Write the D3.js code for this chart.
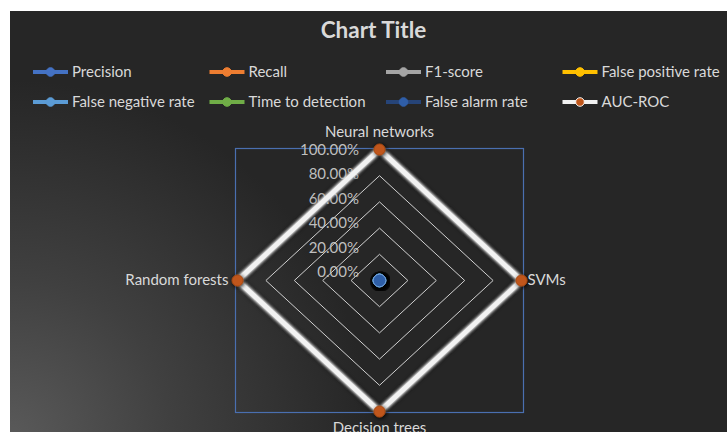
<!DOCTYPE html>
<html>
<head>
<meta charset="utf-8">
<script src="https://cdn.jsdelivr.net/npm/d3@7"></script>
<style>
  html, body { margin: 0; padding: 0; background: #ffffff; }
  svg { display: block; }
  text { font-family: Lato, "Open Sans", sans-serif; }
</style>
</head>
<body>
<svg id="chart" width="727" height="432"></svg>
<script>
// Categories around the radar, clockwise from the top
const categories = ["Neural networks", "SVMs", "Decision trees", "Random forests"];

// Series values per category (fractions of 1 = 100%)
const precision         = [0, 0, 0, 0];
const recall            = [0, 0, 0, 0];
const f1Score           = [0, 0, 0, 0];
const falsePositiveRate = [0, 0, 0, 0];
const falseNegativeRate = [0, 0, 0, 0];
const timeToDetection   = [0, 0, 0, 0];
const falseAlarmRate    = [0, 0, 0, 0];
const aucRoc            = [1, 1, 1, 1];

const seriesNames  = ["Precision", "Recall", "F1-score", "False positive rate",
                      "False negative rate", "Time to detection", "False alarm rate", "AUC-ROC"];
const seriesValues = [precision, recall, f1Score, falsePositiveRate,
                      falseNegativeRate, timeToDetection, falseAlarmRate, aucRoc];
const seriesColors = ["#4472C4", "#ED7D31", "#A5A5A5", "#FFC000",
                      "#5B9BD5", "#70AD47", "#264478", "#F2F2F2"];
const markerColors = ["#4472C4", "#ED7D31", "#A5A5A5", "#FFC000",
                      "#5B9BD5", "#70AD47", "#2F5EA8", "#C0561A"];

// Radial axis ticks
const tickValues = [0, 0.2, 0.4, 0.6, 0.8, 1];
const tickFormat = d3.format(".2%");

const title = "Chart Title";

const svg = d3.select("#chart");
const defs = svg.append("defs");

// Background gradient: lighter toward the lower-left corner
const bg = defs.append("radialGradient")
  .attr("id", "bgGrad")
  .attr("gradientUnits", "userSpaceOnUse")
  .attr("cx", 10).attr("cy", 440).attr("r", 360);
bg.append("stop").attr("offset", "0%").attr("stop-color", "#5a5a5a");
bg.append("stop").attr("offset", "45%").attr("stop-color", "#404040");
bg.append("stop").attr("offset", "100%").attr("stop-color", "#262626");

// Soft dark shadow around markers
const shadow = defs.append("filter").attr("id", "shadow")
  .attr("x", "-30%").attr("y", "-30%").attr("width", "160%").attr("height", "160%");
shadow.append("feGaussianBlur").attr("in", "SourceAlpha").attr("stdDeviation", 2.2).attr("result", "blur");
shadow.append("feFlood").attr("flood-color", "#000").attr("flood-opacity", 0.9);
shadow.append("feComposite").attr("in2", "blur").attr("operator", "in").attr("result", "sh");
shadow.append("feOffset").attr("in", "sh").attr("dx", 0.8).attr("dy", 1.2).attr("result", "shOff");
const merge = shadow.append("feMerge");
merge.append("feMergeNode").attr("in", "shOff");
merge.append("feMergeNode").attr("in", "SourceGraphic");

// Dark halo plus light glow around series lines
const softLine = defs.append("filter").attr("id", "softLine")
  .attr("x", "-20%").attr("y", "-20%").attr("width", "140%").attr("height", "140%");
softLine.append("feGaussianBlur").attr("in", "SourceAlpha").attr("stdDeviation", 3).attr("result", "blur");
softLine.append("feFlood").attr("flood-color", "#000").attr("flood-opacity", 0.95);
softLine.append("feComposite").attr("in2", "blur").attr("operator", "in").attr("result", "sh");
softLine.append("feGaussianBlur").attr("in", "SourceGraphic").attr("stdDeviation", 1.8).attr("result", "glow");
softLine.append("feGaussianBlur").attr("in", "SourceGraphic").attr("stdDeviation", 0.45).attr("result", "soft");
const m2 = softLine.append("feMerge");
m2.append("feMergeNode").attr("in", "sh");
m2.append("feMergeNode").attr("in", "glow");
m2.append("feMergeNode").attr("in", "glow");
m2.append("feMergeNode").attr("in", "soft");

// Chart area
svg.append("rect")
  .attr("x", 10).attr("y", 11)
  .attr("width", 727 - 10).attr("height", 432 - 11)
  .attr("fill", "url(#bgGrad)");

// Title
svg.append("text")
  .attr("x", 373.5).attr("y", 32)
  .attr("text-anchor", "middle").attr("dominant-baseline", "middle")
  .attr("font-size", 22.5).attr("font-weight", "bold")
  .attr("fill", "#d9d9d9")
  .text(title);

// Legend: two rows of four
const legendCols = 4;
const legend = svg.append("g");
seriesNames.forEach((name, i) => {
  const col = i % legendCols, row = Math.floor(i / legendCols);
  const x0 = 33 + col * 176.5, y0 = 72 + row * 30;
  const g = legend.append("g").attr("transform", `translate(${x0},${y0})`);
  g.append("line")
    .attr("x1", 0).attr("x2", 35).attr("y1", 0).attr("y2", 0)
    .attr("stroke", seriesColors[i]).attr("stroke-width", 4);
  g.append("circle")
    .attr("cx", 17.5).attr("cy", 0).attr("r", 4.3)
    .attr("fill", markerColors[i])
    .attr("stroke", i === 7 ? "#F2F2F2" : markerColors[i]).attr("stroke-width", 1);
  g.append("text")
    .attr("x", 39).attr("y", 1)
    .attr("dominant-baseline", "middle")
    .attr("font-size", 15).attr("fill", "#d9d9d9")
    .text(name);
});

// Radar geometry
const cx = 379.5, cy = 280.5, rx = 142, ry = 131;
const angle = d3.scalePoint().domain(categories).range([0, 2 * Math.PI * (categories.length - 1) / categories.length]);
const rScale = d3.scaleLinear().domain([0, 1]).range([0, 1]);
function pt(cat, v) {
  const a = angle(cat);
  return [cx + Math.sin(a) * rx * rScale(v), cy - Math.cos(a) * ry * rScale(v)];
}

// Plot area frame
svg.append("rect")
  .attr("x", cx - rx - 2).attr("y", cy - ry - 1)
  .attr("width", 2 * rx + 4).attr("height", 2 * ry + 2)
  .attr("fill", "none").attr("stroke", "#4a6fb0").attr("stroke-width", 1.2);

// Grid rings
const ring = d3.line().curve(d3.curveLinearClosed);
svg.append("g").selectAll("path")
  .data(tickValues.filter(t => t > 0))
  .join("path")
  .attr("d", t => ring(categories.map(c => pt(c, t))))
  .attr("fill", "none").attr("stroke", "#d0d0d0").attr("stroke-width", 1);

// Tick labels along the top spoke
const labelY = d3.scaleLinear().domain([0, 1]).range([cy - 7, cy - ry + 1.5]);
svg.append("g").selectAll("text")
  .data(tickValues)
  .join("text")
  .attr("x", 359).attr("y", d => labelY(d))
  .attr("text-anchor", "end").attr("dominant-baseline", "middle")
  .attr("font-size", 15).attr("fill", "#bfbfbf")
  .text(d => tickFormat(d));

// Series lines and markers
const seriesG = svg.append("g");
seriesValues.forEach((vals, i) => {
  const pts = categories.map((c, k) => pt(c, vals[k]));
  const isAuc = i === 7;
  seriesG.append("path")
    .attr("d", ring(pts))
    .attr("fill", "none")
    .attr("stroke", seriesColors[i])
    .attr("stroke-width", isAuc ? 4.5 : 2.25)
    .attr("stroke-linejoin", "round")
    .attr("filter", "url(#softLine)");
  seriesG.append("g").selectAll("circle")
    .data(pts)
    .join("circle")
    .attr("cx", d => d[0]).attr("cy", d => d[1])
    .attr("r", isAuc ? 5.5 : 6.3)
    .attr("fill", markerColors[i])
    .attr("stroke", isAuc ? "#a84a12" : "#6fa3dc")
    .attr("stroke-width", 1)
    .attr("filter", "url(#shadow)");
});

// Category labels
const catLabels = svg.append("g").attr("font-size", 15).attr("fill", "#d9d9d9");
categories.forEach(c => {
  const [x, y] = pt(c, 1);
  const a = angle(c);
  let anchor = "middle", dx = 0, dy = 0;
  if (Math.abs(Math.sin(a)) > 0.5) {
    anchor = Math.sin(a) > 0 ? "start" : "end";
    dx = Math.sin(a) > 0 ? 6 : -9;
    dy = 0.5;
  } else {
    dy = Math.cos(a) > 0 ? -16.5 : 17.5;
  }
  catLabels.append("text")
    .attr("x", x + dx).attr("y", y + dy)
    .attr("text-anchor", anchor).attr("dominant-baseline", "middle")
    .text(c);
});
</script>
</body>
</html>
